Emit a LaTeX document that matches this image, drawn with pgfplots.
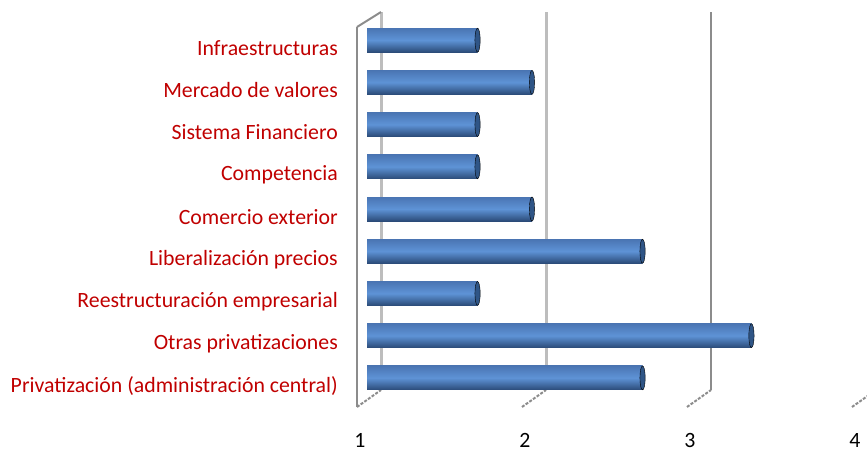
\documentclass[border=0pt]{standalone}
\usepackage{pgfplots}
\pgfplotsset{compat=1.18}
\usepackage{fontspec}
\setmainfont{Carlito}
\definecolor{lab}{HTML}{C00000}
\definecolor{bartop}{HTML}{4A75B3}
\definecolor{barmid}{HTML}{5E93D6}
\definecolor{barbot}{HTML}{2B4B78}
\definecolor{capcol}{HTML}{2F5586}
\definecolor{gridl}{HTML}{BDBDBD}
\definecolor{gridd}{HTML}{8C8C8C}
\pgfplotstableread{
k v
0 2.67
1 3.33
2 1.67
3 2.67
4 2
5 1.67
6 1.67
7 2
8 1.67
}\bars
\begin{document}
\begin{tikzpicture}[x=1pt,y=1pt]
\path[use as bounding box] (0,0) rectangle (867,453);
% back wall
\begin{axis}[at={(381pt,63pt)}, anchor=south west, width=495pt, height=378pt, scale only axis,
  xmin=1, xmax=4, ymin=-0.5, ymax=8.5, axis line style={draw=none}, xtick=\empty, ytick=\empty, clip=false]
  \draw[gridl, line width=3pt] (axis cs:1,-0.5) -- (axis cs:1,8.5);
  \draw[gridl, line width=3pt] (axis cs:2,-0.5) -- (axis cs:2,8.5);
  \draw[gridd, line width=2.5pt] (axis cs:3,-0.5) -- (axis cs:3,8.5);
  \draw[gridd, line width=2.5pt] (axis cs:4,-0.5) -- (axis cs:4,8.5);
\end{axis}
% front plane: labels, left edge, floor
\begin{axis}[at={(357pt,46pt)}, anchor=south west, width=495pt, height=380pt, scale only axis,
  xmin=1, xmax=4, ymin=-0.5, ymax=8.5, axis line style={draw=none}, clip=false,
  xtick={1,2,3,4}, xticklabels={1,2,3,4}, major tick length=0pt,
  ytick={0,...,8},
  yticklabels={Privatización (administración central), Otras privatizaciones, Reestructuración empresarial, Liberalización precios, Comercio exterior, Competencia, Sistema Financiero, Mercado de valores, Infraestructuras\ },
  yticklabel style={text=lab, font=\fontsize{21.8}{24}\selectfont, anchor=east, inner sep=0pt, xshift=-19pt},
  xticklabel style={font=\fontsize{21.8}{24}\selectfont, anchor=north, inner sep=0pt, yshift=-26pt, xshift=3pt}]
  \draw[gridd, line width=2pt] (axis cs:1,-0.5) -- (axis cs:1,8.5);
  \draw[gridd, line width=2pt] (axis cs:1,8.5) -- ++(24pt,15pt);
  \draw[gridd, line width=2pt, dash pattern=on 3pt off 1.5pt] (axis cs:1,-0.5) -- ++(24pt,17pt);
  \draw[gridd, line width=2pt, dash pattern=on 3pt off 1.5pt] (axis cs:2,-0.5) -- ++(24pt,17pt);
  \draw[gridd, line width=2pt, dash pattern=on 3pt off 1.5pt] (axis cs:3,-0.5) -- ++(24pt,17pt);
  \draw[gridd, line width=2pt, dash pattern=on 3pt off 1.5pt] (axis cs:4,-0.5) -- ++(24pt,17pt);
\end{axis}
% bars at mid depth
\begin{axis}[at={(367pt,54pt)}, anchor=south west, width=495pt, height=380pt, scale only axis,
  xmin=1, xmax=4, ymin=-0.5, ymax=8.5, axis line style={draw=none}, xtick=\empty, ytick=\empty,
  xbar, bar width=24pt, bar shift=0pt]
  \pgfplotsinvokeforeach{0,...,8}{
    \addplot[xbar, draw=none, top color=bartop, bottom color=barbot, middle color=barmid]
      table[x=v, y=k, restrict expr to domain={\thisrow{k}}{#1:#1}] {\bars};
  }
  \addplot[only marks, mark=*, mark size=12pt, mark options={xscale=0.22, fill=capcol, draw=none}]
    table[x=v, y=k] {\bars};
\end{axis}
\end{tikzpicture}
\end{document}
